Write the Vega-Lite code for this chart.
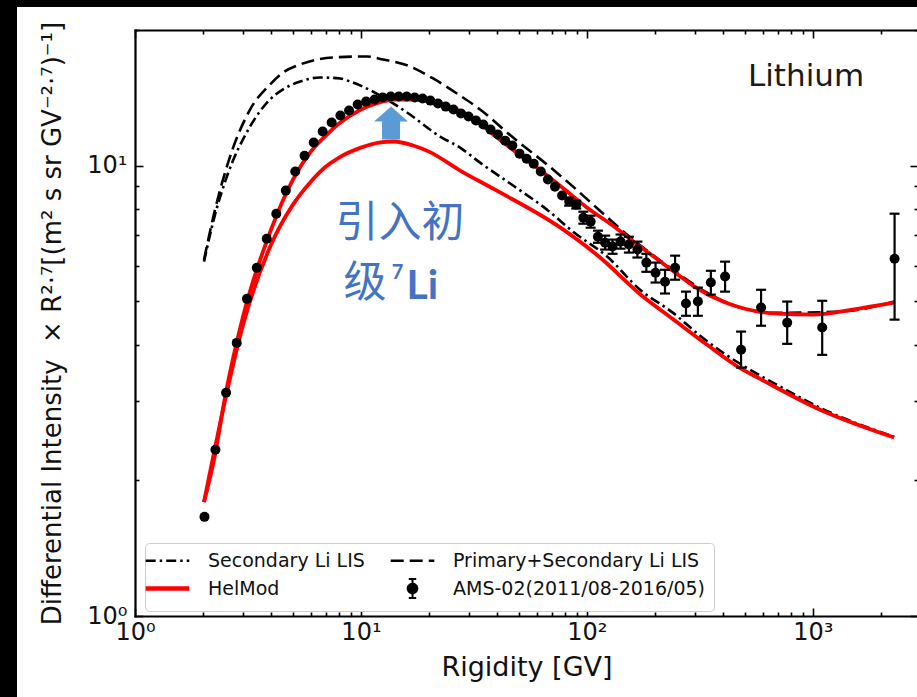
{
  "$schema": "https://vega.github.io/schema/vega-lite/v6.json",
  "width": 900,
  "height": 690,
  "autosize": {"type": "none"},
  "padding": {"left": 17, "top": 7, "right": 0, "bottom": 0},
  "background": "#000000",
  "config": {
    "view": {"fill": "#ffffff", "stroke": null},
    "font": "DejaVu Sans",
    "axis": {
      "domainColor": "#000000", "domainWidth": 2.2, "domainCap": "square",
      "tickColor": "#000000", "tickWidth": 1.6,
      "labelFont": "DejaVu Sans", "labelFontSize": 24, "labelColor": "#111111",
      "titleFont": "DejaVu Sans", "titleFontWeight": "normal", "titleColor": "#111111",
      "grid": false, "labelFlush": false, "labelOverlap": false, "labelBound": false
    }
  },
  "datasets": {
    "curves": [
      {"series": "Secondary Li LIS", "curve": "sec", "R": 2.02, "F": 6.12},
      {"series": "Secondary Li LIS", "curve": "sec", "R": 2.26, "F": 7.78},
      {"series": "Secondary Li LIS", "curve": "sec", "R": 2.55, "F": 9.45},
      {"series": "Secondary Li LIS", "curve": "sec", "R": 3.23, "F": 12.21},
      {"series": "Secondary Li LIS", "curve": "sec", "R": 3.96, "F": 14.02},
      {"series": "Secondary Li LIS", "curve": "sec", "R": 4.52, "F": 14.76},
      {"series": "Secondary Li LIS", "curve": "sec", "R": 5.38, "F": 15.37},
      {"series": "Secondary Li LIS", "curve": "sec", "R": 6.59, "F": 15.69},
      {"series": "Secondary Li LIS", "curve": "sec", "R": 8.08, "F": 15.61},
      {"series": "Secondary Li LIS", "curve": "sec", "R": 8.95, "F": 15.37},
      {"series": "Secondary Li LIS", "curve": "sec", "R": 11.31, "F": 14.6},
      {"series": "Secondary Li LIS", "curve": "sec", "R": 16.0, "F": 13.12},
      {"series": "Secondary Li LIS", "curve": "sec", "R": 22.39, "F": 11.6},
      {"series": "Secondary Li LIS", "curve": "sec", "R": 27.47, "F": 10.96},
      {"series": "Secondary Li LIS", "curve": "sec", "R": 33.67, "F": 10.15},
      {"series": "Secondary Li LIS", "curve": "sec", "R": 47.13, "F": 9.03},
      {"series": "Secondary Li LIS", "curve": "sec", "R": 66.65, "F": 7.98},
      {"series": "Secondary Li LIS", "curve": "sec", "R": 86.87, "F": 7.13},
      {"series": "Secondary Li LIS", "curve": "sec", "R": 122.9, "F": 6.28},
      {"series": "Secondary Li LIS", "curve": "sec", "R": 172.0, "F": 5.3},
      {"series": "Secondary Li LIS", "curve": "sec", "R": 240.7, "F": 4.71},
      {"series": "Secondary Li LIS", "curve": "sec", "R": 317, "F": 4.19},
      {"series": "Secondary Li LIS", "curve": "sec", "R": 400.8, "F": 3.84},
      {"series": "Secondary Li LIS", "curve": "sec", "R": 528, "F": 3.52},
      {"series": "Secondary Li LIS", "curve": "sec", "R": 716.8, "F": 3.23},
      {"series": "Secondary Li LIS", "curve": "sec", "R": 1077, "F": 2.9},
      {"series": "Secondary Li LIS", "curve": "sec", "R": 2290, "F": 2.5},

      {"series": "Primary+Secondary Li LIS", "curve": "pri", "R": 2.02, "F": 6.18},
      {"series": "Primary+Secondary Li LIS", "curve": "pri", "R": 2.26, "F": 7.98},
      {"series": "Primary+Secondary Li LIS", "curve": "pri", "R": 2.55, "F": 9.95},
      {"series": "Primary+Secondary Li LIS", "curve": "pri", "R": 3.23, "F": 13.32},
      {"series": "Primary+Secondary Li LIS", "curve": "pri", "R": 3.96, "F": 15.14},
      {"series": "Primary+Secondary Li LIS", "curve": "pri", "R": 4.52, "F": 16.09},
      {"series": "Primary+Secondary Li LIS", "curve": "pri", "R": 5.38, "F": 16.77},
      {"series": "Primary+Secondary Li LIS", "curve": "pri", "R": 7.52, "F": 17.38},
      {"series": "Primary+Secondary Li LIS", "curve": "pri", "R": 10.64, "F": 17.47},
      {"series": "Primary+Secondary Li LIS", "curve": "pri", "R": 12.53, "F": 17.2},
      {"series": "Primary+Secondary Li LIS", "curve": "pri", "R": 16.5, "F": 16.6},
      {"series": "Primary+Secondary Li LIS", "curve": "pri", "R": 20.86, "F": 15.61},
      {"series": "Primary+Secondary Li LIS", "curve": "pri", "R": 27.47, "F": 14.3},
      {"series": "Primary+Secondary Li LIS", "curve": "pri", "R": 33.67, "F": 13.32},
      {"series": "Primary+Secondary Li LIS", "curve": "pri", "R": 47.13, "F": 11.54},
      {"series": "Primary+Secondary Li LIS", "curve": "pri", "R": 66.65, "F": 10.05},
      {"series": "Primary+Secondary Li LIS", "curve": "pri", "R": 86.87, "F": 8.98},
      {"series": "Primary+Secondary Li LIS", "curve": "pri", "R": 106.5, "F": 8.19},
      {"series": "Primary+Secondary Li LIS", "curve": "pri", "R": 160.2, "F": 6.85},
      {"series": "Primary+Secondary Li LIS", "curve": "pri", "R": 240.7, "F": 5.87},
      {"series": "Primary+Secondary Li LIS", "curve": "pri", "R": 340.5, "F": 5.22},
      {"series": "Primary+Secondary Li LIS", "curve": "pri", "R": 476.7, "F": 4.84},
      {"series": "Primary+Secondary Li LIS", "curve": "pri", "R": 667.4, "F": 4.71},
      {"series": "Primary+Secondary Li LIS", "curve": "pri", "R": 1321, "F": 4.74},
      {"series": "Primary+Secondary Li LIS", "curve": "pri", "R": 2290, "F": 4.99},

      {"series": "HelMod", "curve": "helmod_pri", "R": 2.02, "F": 1.79},
      {"series": "HelMod", "curve": "helmod_pri", "R": 2.26, "F": 2.28},
      {"series": "HelMod", "curve": "helmod_pri", "R": 2.5, "F": 3.05},
      {"series": "HelMod", "curve": "helmod_pri", "R": 3, "F": 4.6},
      {"series": "HelMod", "curve": "helmod_pri", "R": 4, "F": 7.21},
      {"series": "HelMod", "curve": "helmod_pri", "R": 5, "F": 9.31},
      {"series": "HelMod", "curve": "helmod_pri", "R": 6, "F": 10.74},
      {"series": "HelMod", "curve": "helmod_pri", "R": 7, "F": 11.66},
      {"series": "HelMod", "curve": "helmod_pri", "R": 8, "F": 12.4},
      {"series": "HelMod", "curve": "helmod_pri", "R": 10, "F": 13.32},
      {"series": "HelMod", "curve": "helmod_pri", "R": 12, "F": 13.8},
      {"series": "HelMod", "curve": "helmod_pri", "R": 14, "F": 14.02},
      {"series": "HelMod", "curve": "helmod_pri", "R": 17, "F": 14.02},
      {"series": "HelMod", "curve": "helmod_pri", "R": 20, "F": 13.88},
      {"series": "HelMod", "curve": "helmod_pri", "R": 25, "F": 13.45},
      {"series": "HelMod", "curve": "helmod_pri", "R": 30, "F": 12.92},
      {"series": "HelMod", "curve": "helmod_pri", "R": 40, "F": 11.54},
      {"series": "HelMod", "curve": "helmod_pri", "R": 47, "F": 10.85},
      {"series": "HelMod", "curve": "helmod_pri", "R": 60, "F": 9.9},
      {"series": "HelMod", "curve": "helmod_pri", "R": 80, "F": 8.84},
      {"series": "HelMod", "curve": "helmod_pri", "R": 100, "F": 8.07},
      {"series": "HelMod", "curve": "helmod_pri", "R": 130, "F": 7.36},
      {"series": "HelMod", "curve": "helmod_pri", "R": 170, "F": 6.64},
      {"series": "HelMod", "curve": "helmod_pri", "R": 200, "F": 6.25},
      {"series": "HelMod", "curve": "helmod_pri", "R": 250, "F": 5.75},
      {"series": "HelMod", "curve": "helmod_pri", "R": 300, "F": 5.38},
      {"series": "HelMod", "curve": "helmod_pri", "R": 400, "F": 4.99},
      {"series": "HelMod", "curve": "helmod_pri", "R": 500, "F": 4.81},
      {"series": "HelMod", "curve": "helmod_pri", "R": 700, "F": 4.69},
      {"series": "HelMod", "curve": "helmod_pri", "R": 1000, "F": 4.67},
      {"series": "HelMod", "curve": "helmod_pri", "R": 1500, "F": 4.79},
      {"series": "HelMod", "curve": "helmod_pri", "R": 2290, "F": 4.96},

      {"series": "HelMod", "curve": "helmod_sec", "R": 2.02, "F": 1.79},
      {"series": "HelMod", "curve": "helmod_sec", "R": 2.5, "F": 3.0},
      {"series": "HelMod", "curve": "helmod_sec", "R": 3, "F": 4.41},
      {"series": "HelMod", "curve": "helmod_sec", "R": 4, "F": 6.67},
      {"series": "HelMod", "curve": "helmod_sec", "R": 5, "F": 8.19},
      {"series": "HelMod", "curve": "helmod_sec", "R": 6, "F": 9.21},
      {"series": "HelMod", "curve": "helmod_sec", "R": 7, "F": 9.95},
      {"series": "HelMod", "curve": "helmod_sec", "R": 8, "F": 10.42},
      {"series": "HelMod", "curve": "helmod_sec", "R": 10, "F": 10.96},
      {"series": "HelMod", "curve": "helmod_sec", "R": 12, "F": 11.25},
      {"series": "HelMod", "curve": "helmod_sec", "R": 14, "F": 11.31},
      {"series": "HelMod", "curve": "helmod_sec", "R": 17, "F": 11.08},
      {"series": "HelMod", "curve": "helmod_sec", "R": 20, "F": 10.74},
      {"series": "HelMod", "curve": "helmod_sec", "R": 27.47, "F": 9.75},
      {"series": "HelMod", "curve": "helmod_sec", "R": 39.23, "F": 8.84},
      {"series": "HelMod", "curve": "helmod_sec", "R": 76.1, "F": 7.29},
      {"series": "HelMod", "curve": "helmod_sec", "R": 114.4, "F": 6.25},
      {"series": "HelMod", "curve": "helmod_sec", "R": 172, "F": 5.18},
      {"series": "HelMod", "curve": "helmod_sec", "R": 240.7, "F": 4.56},
      {"series": "HelMod", "curve": "helmod_sec", "R": 340.5, "F": 4.0},
      {"series": "HelMod", "curve": "helmod_sec", "R": 476.7, "F": 3.55},
      {"series": "HelMod", "curve": "helmod_sec", "R": 584.6, "F": 3.36},
      {"series": "HelMod", "curve": "helmod_sec", "R": 1077, "F": 2.87},
      {"series": "HelMod", "curve": "helmod_sec", "R": 2290, "F": 2.49}
    ],
    "ams": [
      {"R": 2.03, "F": 1.66}, {"R": 2.27, "F": 2.34}, {"R": 2.53, "F": 3.13}, {"R": 2.82, "F": 4.04},
      {"R": 3.13, "F": 5.06}, {"R": 3.46, "F": 5.93}, {"R": 3.83, "F": 6.88}, {"R": 4.22, "F": 7.82},
      {"R": 4.65, "F": 8.8}, {"R": 5.12, "F": 9.7}, {"R": 5.63, "F": 10.52}, {"R": 6.18, "F": 11.25},
      {"R": 6.77, "F": 11.9}, {"R": 7.42, "F": 12.46}, {"R": 8.11, "F": 12.92}, {"R": 8.86, "F": 13.25},
      {"R": 9.67, "F": 13.66}, {"R": 10.54, "F": 13.87}, {"R": 11.49, "F": 14.02}, {"R": 12.49, "F": 14.16},
      {"R": 13.54, "F": 14.24}, {"R": 14.69, "F": 14.24}, {"R": 15.94, "F": 14.24}, {"R": 17.29, "F": 14.16},
      {"R": 18.73, "F": 14.09}, {"R": 20.28, "F": 13.94}, {"R": 21.93, "F": 13.73}, {"R": 23.73, "F": 13.52},
      {"R": 25.68, "F": 13.32}, {"R": 27.73, "F": 13.05}, {"R": 29.93, "F": 12.85}, {"R": 32.28, "F": 12.59},
      {"R": 34.78, "F": 12.34}, {"R": 37.47, "F": 12.02}, {"R": 40.37, "F": 11.72}, {"R": 43.47, "F": 11.36},
      {"R": 46.77, "F": 11.08}, {"R": 50.32, "F": 10.63}, {"R": 54.12, "F": 10.36}, {"R": 58.16, "F": 10.1},
      {"R": 62.51, "F": 9.7}, {"R": 67.21, "F": 9.31}, {"R": 72.25, "F": 8.98}, {"R": 77.65, "F": 8.58},
      {"R": 83.45, "F": 8.32, "lo": 8.15, "hi": 8.49},
      {"R": 89.69, "F": 8.19, "lo": 8.03, "hi": 8.36},
      {"R": 96.44, "F": 7.66, "lo": 7.43, "hi": 7.9},
      {"R": 103.9, "F": 7.51, "lo": 7.28, "hi": 7.74},
      {"R": 111.9, "F": 6.95, "lo": 6.74, "hi": 7.17},
      {"R": 120.4, "F": 6.74, "lo": 6.51, "hi": 6.99},
      {"R": 129.9, "F": 6.61, "lo": 6.37, "hi": 6.85},
      {"R": 140.9, "F": 6.78, "lo": 6.54, "hi": 7.03},
      {"R": 153.4, "F": 6.68, "lo": 6.41, "hi": 6.95},
      {"R": 167.3, "F": 6.51, "lo": 6.25, "hi": 6.78},
      {"R": 183.3, "F": 6.09, "lo": 5.81, "hi": 6.37},
      {"R": 201.3, "F": 5.78, "lo": 5.5, "hi": 6.09},
      {"R": 221.7, "F": 5.52, "lo": 5.2, "hi": 5.87},
      {"R": 245.7, "F": 5.93, "lo": 5.58, "hi": 6.31},
      {"R": 274.5, "F": 4.94, "lo": 4.64, "hi": 5.25},
      {"R": 309.9, "F": 4.99, "lo": 4.64, "hi": 5.36},
      {"R": 353.7, "F": 5.5, "lo": 5.17, "hi": 5.84},
      {"R": 408.8, "F": 5.67, "lo": 5.25, "hi": 6.12},
      {"R": 481.2, "F": 3.9, "lo": 3.56, "hi": 4.28},
      {"R": 590, "F": 4.84, "lo": 4.41, "hi": 5.3},
      {"R": 770, "F": 4.48, "lo": 4.02, "hi": 4.99},
      {"R": 1100, "F": 4.37, "lo": 3.8, "hi": 5.01},
      {"R": 2300, "F": 6.21, "lo": 4.55, "hi": 7.82}
    ]
  },
  "layer": [
    {
      "data": {"name": "curves"},
      "transform": [{"filter": "datum.series != 'HelMod'"}],
      "mark": {"type": "line", "strokeWidth": 2.6, "interpolate": "monotone", "clip": true},
      "encoding": {
        "x": {
          "field": "R", "type": "quantitative",
          "scale": {"type": "log", "domain": [1, 2920], "range": [118, 901], "nice": false},
          "axis": {
            "orient": "bottom", "offset": -81,
            "values": [1, 2, 3, 4, 5, 6, 7, 8, 9, 10, 20, 30, 40, 50, 60, 70, 80, 90, 100, 200, 300, 400, 500, 600, 700, 800, 900, 1000, 2000],
            "labelExpr": "datum.value == 1 ? '10⁰' : datum.value == 10 ? '10¹' : datum.value == 100 ? '10²' : datum.value == 1000 ? '10³' : ''",
            "tickSize": {"condition": {"test": "datum.value == 1 || datum.value == 10 || datum.value == 100 || datum.value == 1000", "value": -8}, "value": -4},
            "labelPadding": 12,
            "title": "Rigidity [GV]", "titleFontSize": 27, "titlePadding": 6
          }
        },
        "y": {
          "field": "F", "type": "quantitative",
          "scale": {"type": "log", "domain": [1, 20], "range": [609, 23], "nice": false},
          "axis": {
            "orient": "left", "offset": -118,
            "values": [1, 2, 3, 4, 5, 6, 7, 8, 9, 10, 20],
            "labelExpr": "datum.value == 1 ? '10⁰' : datum.value == 10 ? '10¹' : ''",
            "tickSize": {"condition": {"test": "datum.value == 1 || datum.value == 10", "value": -8}, "value": -4},
            "labelPadding": 16,
            "title": "Differential Intensity\u00a0 × R²·⁷[(m² s sr GV⁻²·⁷)⁻¹]",
            "titleFontSize": 26, "titlePadding": 21
          }
        },
        "color": {
          "field": "series", "type": "nominal",
          "scale": {
            "domain": ["Secondary Li LIS", "HelMod", "Primary+Secondary Li LIS", "AMS-02(2011/08-2016/05)"],
            "range": ["#000000", "#ff0000", "#000000", "#000000"]
          },
          "legend": {
            "title": null, "orient": "none", "legendX": 128, "legendY": 536,
            "columns": 2, "columnPadding": 20, "rowPadding": 3, "padding": 8,
            "symbolType": "stroke", "symbolSize": 1900, "symbolStrokeWidth": 2.5, "symbolOffset": 5,
            "labelFont": "DejaVu Sans", "labelFontSize": 19, "labelColor": "#111111",
            "labelOffset": 31, "labelLimit": 400,
            "strokeColor": "#cccccc", "fillColor": "#ffffff", "cornerRadius": 4,
            "encode": {
              "symbols": {
                "update": {
                  "shape": {"signal": "datum.value === 'AMS-02(2011/08-2016/05)' ? 'M-0.22,0A0.22,0.22 0 1,1 0.22,0A0.22,0.22 0 1,1 -0.22,0Z M0,-0.44L0,0.44 M-0.17,-0.44L0.17,-0.44 M-0.17,0.44L0.17,0.44' : 'stroke'"},
                  "strokeDash": {"signal": "datum.value === 'Secondary Li LIS' ? [10, 4, 2.5, 4] : datum.value === 'Primary+Secondary Li LIS' ? [13, 6] : [1, 0]"},
                  "strokeWidth": {"signal": "datum.value === 'HelMod' ? 4.5 : datum.value === 'AMS-02(2011/08-2016/05)' ? 2 : 2.6"},
                  "stroke": {"signal": "datum.value === 'HelMod' ? '#ff0000' : '#000000'"},
                  "fill": {"signal": "datum.value === 'AMS-02(2011/08-2016/05)' ? '#000000' : 'transparent'"},
                  "opacity": {"value": 1}
                }
              }
            }
          }
        },
        "strokeDash": {
          "field": "series", "type": "nominal",
          "scale": {"domain": ["Secondary Li LIS", "Primary+Secondary Li LIS"], "range": [[10, 4, 2.5, 4], [13, 6]]},
          "legend": null
        }
      }
    },
    {
      "data": {"name": "curves"},
      "transform": [{"filter": "datum.series == 'HelMod'"}],
      "mark": {"type": "line", "strokeWidth": 3.8, "interpolate": "monotone", "clip": true},
      "encoding": {
        "x": {"field": "R", "type": "quantitative", "axis": null},
        "y": {"field": "F", "type": "quantitative", "axis": null},
        "color": {"field": "series", "type": "nominal"},
        "detail": {"field": "curve"}
      }
    },
    {
      "data": {"name": "ams"},
      "transform": [{"filter": "isValid(datum.lo)"}],
      "mark": {"type": "rule", "color": "#000000", "strokeWidth": 2.2},
      "encoding": {
        "x": {"field": "R", "type": "quantitative", "axis": null},
        "y": {"field": "lo", "type": "quantitative", "axis": null},
        "y2": {"field": "hi"}
      }
    },
    {
      "data": {"name": "ams"},
      "transform": [{"filter": "isValid(datum.lo)"}],
      "mark": {"type": "point", "shape": "M-1,0L1,0", "filled": false, "size": 100, "strokeWidth": 2.2, "color": "#000000", "opacity": 1},
      "encoding": {
        "x": {"field": "R", "type": "quantitative", "axis": null},
        "y": {"field": "lo", "type": "quantitative", "axis": null}
      }
    },
    {
      "data": {"name": "ams"},
      "transform": [{"filter": "isValid(datum.hi)"}],
      "mark": {"type": "point", "shape": "M-1,0L1,0", "filled": false, "size": 100, "strokeWidth": 2.2, "color": "#000000", "opacity": 1},
      "encoding": {
        "x": {"field": "R", "type": "quantitative", "axis": null},
        "y": {"field": "hi", "type": "quantitative", "axis": null}
      }
    },
    {
      "data": {"name": "ams"},
      "mark": {"type": "point", "filled": true, "size": 100, "opacity": 1, "strokeWidth": 0},
      "encoding": {
        "x": {
          "field": "R", "type": "quantitative",
          "axis": {
            "orient": "top", "offset": -23, "labels": false, "title": null,
            "values": [1, 2, 3, 4, 5, 6, 7, 8, 9, 10, 20, 30, 40, 50, 60, 70, 80, 90, 100, 200, 300, 400, 500, 600, 700, 800, 900, 1000, 2000],
            "tickSize": {"condition": {"test": "datum.value == 1 || datum.value == 10 || datum.value == 100 || datum.value == 1000", "value": -8}, "value": -4}
          }
        },
        "y": {
          "field": "F", "type": "quantitative",
          "axis": {
            "orient": "right", "offset": 1, "labels": false, "title": null,
            "values": [1, 2, 3, 4, 5, 6, 7, 8, 9, 10, 20],
            "tickSize": {"condition": {"test": "datum.value == 1 || datum.value == 10", "value": -8}, "value": -4}
          }
        },
        "color": {"datum": "AMS-02(2011/08-2016/05)", "type": "nominal"}
      }
    },
    {
      "data": {"values": [{}]},
      "mark": {"type": "text", "text": "Lithium", "font": "DejaVu Sans", "fontSize": 31, "color": "#1a1a1a", "align": "center", "baseline": "middle"},
      "encoding": {
        "x": {"datum": 933, "type": "quantitative", "axis": null},
        "y": {"datum": 15.75, "type": "quantitative", "axis": null}
      }
    },
    {
      "data": {"values": [{}]},
      "mark": {"type": "point", "shape": "M-0.53,0.97L0.53,0.97L0.53,-0.09L1,-0.09L0,-0.97L-1,-0.09L-0.53,-0.09Z", "filled": true, "color": "#5B9BD5", "size": 1156, "opacity": 1, "strokeWidth": 0},
      "encoding": {
        "x": {"datum": 13.59, "type": "quantitative", "axis": null},
        "y": {"datum": 12.43, "type": "quantitative", "axis": null}
      }
    },
    {
      "data": {"values": [{}]},
      "mark": {"type": "text", "text": "引入初", "font": "Noto Sans CJK SC", "fontSize": 43, "color": "#4472C4", "align": "center", "baseline": "middle"},
      "encoding": {
        "x": {"datum": 14.9, "type": "quantitative", "axis": null},
        "y": {"datum": 7.4, "type": "quantitative", "axis": null}
      }
    },
    {
      "data": {"values": [{}]},
      "mark": {"type": "text", "text": "级", "font": "Noto Sans CJK SC", "fontSize": 43, "color": "#4472C4", "align": "center", "baseline": "middle"},
      "encoding": {
        "x": {"datum": 10.43, "type": "quantitative", "axis": null},
        "y": {"datum": 5.45, "type": "quantitative", "axis": null}
      }
    },
    {
      "data": {"values": [{}]},
      "mark": {"type": "text", "text": "7", "font": "Lato", "fontWeight": "bold", "fontSize": 20, "color": "#4472C4", "align": "left", "baseline": "alphabetic"},
      "encoding": {
        "x": {"datum": 13.7, "type": "quantitative", "axis": null},
        "y": {"datum": 5.6, "type": "quantitative", "axis": null}
      }
    },
    {
      "data": {"values": [{}]},
      "mark": {"type": "text", "text": "Li", "font": "Lato", "fontWeight": "bold", "fontSize": 41, "color": "#4472C4", "align": "left", "baseline": "alphabetic"},
      "encoding": {
        "x": {"datum": 15.9, "type": "quantitative", "axis": null},
        "y": {"datum": 5.06, "type": "quantitative", "axis": null}
      }
    }
  ],
  "resolve": {"axis": {"x": "independent", "y": "independent"}}
}
